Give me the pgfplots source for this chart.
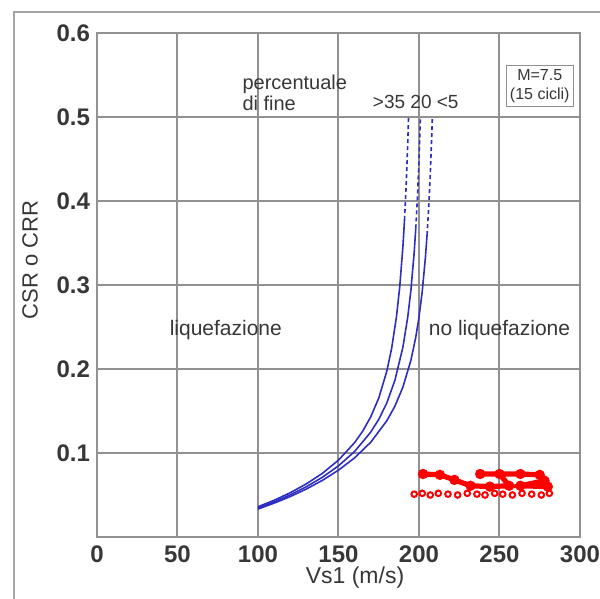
\documentclass[border=0pt]{standalone}
\usepackage{fontspec}
\setmainfont{Liberation Sans}
\usepackage{pgfplots}
\pgfplotsset{compat=1.18}
\definecolor{gridgray}{RGB}{145,145,145}
\definecolor{framegray}{RGB}{165,165,165}
\definecolor{curveblue}{RGB}{45,45,195}
\definecolor{txtgray}{RGB}{55,55,55}

\begin{document}
\begin{tikzpicture}
\useasboundingbox (-48.5pt,-31pt) rectangle (251.5pt,268.5pt);
% outer frame of the figure
\draw[framegray, line width=1.3pt] (-41.5pt,-40pt) -- (-41.5pt,262.5pt) -- (270pt,262.5pt);
\begin{axis}[
  at={(0,0)}, anchor=south west,
  width=241.5pt, height=252pt, scale only axis,
  xmin=0, xmax=300, ymin=0, ymax=0.6,
  xtick={0,50,100,150,200,250,300},
  ytick={0.1,0.2,0.3,0.4,0.5,0.6},
  grid=major,
  grid style={gridgray, line width=1pt},
  axis line style={gridgray, line width=1pt},
  tick style={draw=none},
  /pgf/number format/assume math mode=true,
  tick label style={font=\fontsize{12}{12}\selectfont\bfseries, text=txtgray},
  yticklabel style={/pgf/number format/fixed, /pgf/number format/precision=1},
  xticklabel style={yshift=-1pt},
  clip=false,
]
% Fine content curves (>35, 20, <5)
\addplot[curveblue, line width=0.8pt] coordinates {
  (100,0.0360) (110,0.0437) (120,0.0527) (130,0.0632) (140,0.0758) (150,0.0915)
  (160,0.1123) (165,0.1259) (170,0.1429) (175,0.1654) (180,0.1973) (183,0.2244)
  (186,0.2621) (188,0.2971) (190,0.3454) (191,0.3774)};
\addplot[curveblue, line width=0.8pt, dash pattern=on 2pt off 1.5pt] coordinates {
  (191,0.3774) (192,0.4171) (193,0.4680) (193.5,0.4990)};
\addplot[curveblue, line width=0.8pt] coordinates {
  (100,0.0346) (110,0.0418) (120,0.0502) (130,0.0598) (140,0.0711) (150,0.0847)
  (160,0.1018) (170,0.1248) (175,0.1400) (180,0.1596) (185,0.1863) (190,0.2259)
  (193,0.2616) (195,0.2942) (197,0.3386) (198,0.3675)};
\addplot[curveblue, line width=0.8pt, dash pattern=on 2pt off 1.5pt] coordinates {
  (198,0.3675) (199,0.4030) (200,0.4478) (200.5,0.4750) (200.9,0.4995)};
\addplot[curveblue, line width=0.8pt] coordinates {
  (100,0.0333) (110,0.0403) (120,0.0481) (130,0.0571) (140,0.0674) (150,0.0796)
  (160,0.0942) (170,0.1128) (180,0.1383) (185,0.1556) (190,0.1784) (195,0.2106)
  (198,0.2379) (200,0.2616) (202,0.2921) (204,0.3331) (205,0.3594)};
\addplot[curveblue, line width=0.8pt, dash pattern=on 2pt off 1.5pt] coordinates {
  (205,0.3594) (206,0.3915) (207,0.4313) (208,0.4822) (208.3,0.5003)};
% site data
\addplot[red, line width=2.6pt, mark=*, mark size=1.2pt] coordinates {
  (202.5,0.075) (213,0.074) (222,0.068) (232,0.061) (244,0.060) (256,0.061)
  (250,0.075) (238,0.075) (263,0.075) (275,0.074) (278,0.067) (263,0.061) (280,0.060)};
\addplot[red, only marks, mark=o, mark size=1.4pt, line width=1pt] coordinates {
  (197,0.051) (202,0.052) (207,0.050) (212,0.052) (218,0.051) (224,0.050)
  (230,0.052) (236,0.051) (241,0.050) (247,0.052) (252,0.051) (258,0.050)
  (264,0.052) (270,0.051) (276,0.050) (281,0.052)};
% annotations
\node[anchor=west, align=left, text=txtgray, font=\fontsize{10}{10.5}\selectfont]
  at (axis cs:86,0.529) {percentuale\\di fine};
\node[text=txtgray, font=\fontsize{9.5}{10}\selectfont] at (axis cs:198,0.518) {>35 20 <5};
\node[draw=gridgray, fill=white, align=center, inner sep=2pt, text=txtgray,
  font=\fontsize{8}{9.5}\selectfont] at (axis cs:275,0.537) {M=7.5\\(15 cicli)};
\node[text=txtgray, font=\fontsize{10.5}{11}\selectfont] at (axis cs:80,0.246) {liquefazione};
\node[text=txtgray, font=\fontsize{10.5}{11}\selectfont] at (axis cs:250,0.246) {no liquefazione};
\end{axis}
\node[rotate=90, text=txtgray, font=\fontsize{11}{11}\selectfont] at (-33.5pt,138.5pt) {CSR o CRR};
\node[text=txtgray, font=\fontsize{11.5}{12}\selectfont] at (129pt,-20.5pt) {Vs1 (m/s)};
\end{tikzpicture}
\end{document}
